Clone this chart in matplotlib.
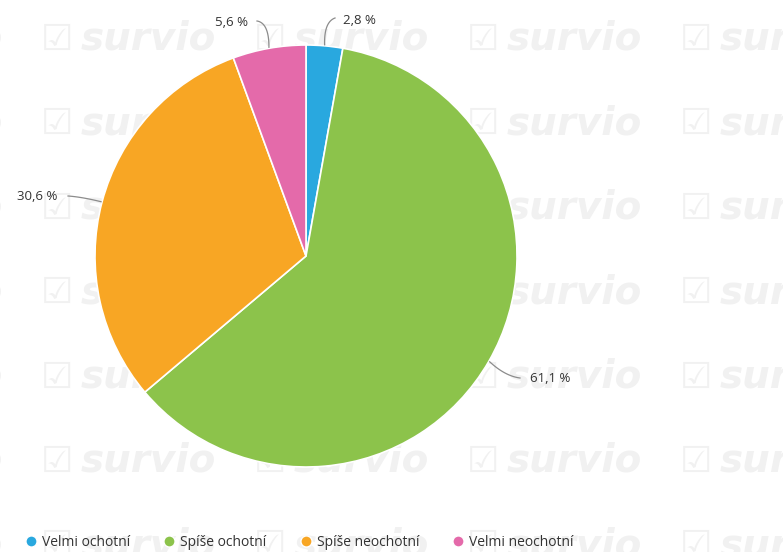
import numpy as np
import matplotlib.pyplot as plt
from matplotlib.lines import Line2D

labels = ["Velmi ochotní", "Spíše ochotní", "Spíše neochotní", "Velmi neochotní"]
values = [2.8, 61.1, 30.6, 5.6]
value_text = ["2,8 %", "61,1 %", "30,6 %", "5,6 %"]
colors = ["#29a8df", "#8cc34b", "#f8a624", "#e46aaa"]

W, H = 783, 552
fig = plt.figure(figsize=(W / 100, H / 100), dpi=100)
ax = fig.add_axes([0, 0, 1, 1])

# faint "survio" watermark grid behind the chart
wm = "#f1f1f1"
for yy in np.arange(7) * 84.4 + 50:
    for xx in np.arange(-1, 4) * 213 + 41:
        ax.text(xx, H - yy, "\u2611", fontsize=26, color=wm, va="baseline", ha="left", zorder=0)
        ax.text(xx + 40, H - yy, "survio", fontsize=28, color=wm, fontstyle="italic",
                fontweight="bold", va="baseline", ha="left", zorder=0)

cx, cy, r = 306, H - 256, 211
wedges, _ = ax.pie(values, colors=colors, startangle=90, counterclock=False,
                   center=(cx, cy), radius=r, frame=True,
                   wedgeprops=dict(edgecolor="white", linewidth=1.2))
ax.set_xlim(0, W)
ax.set_ylim(0, H)
ax.set_aspect("equal")
ax.axis("off")

# label text anchor, bend point and end of leader (pixels from top-left)
label_pos = [((343, 20), (324, 22), (335, 18), "left"),
             ((530, 378), (505, 376), (520, 378), "left"),
             ((57, 196), (82, 197), (68, 196), "right"),
             ((248, 22), (269, 23), (257, 21), "right")]
t = np.linspace(0, 1, 30)
for w, txt, (tp, cp, ep, ha) in zip(wedges, value_text, label_pos):
    ang = np.deg2rad((w.theta1 + w.theta2) / 2)
    px, py = cx + (r + 1) * np.cos(ang), cy + (r + 1) * np.sin(ang)
    qx, qy = cp[0], H - cp[1]
    ex, ey = ep[0], H - ep[1]
    bx = (1 - t) ** 2 * px + 2 * (1 - t) * t * qx + t ** 2 * ex
    by = (1 - t) ** 2 * py + 2 * (1 - t) * t * qy + t ** 2 * ey
    ax.plot(bx, by, color="#8c8c8c", lw=0.9, zorder=3)
    ax.text(tp[0], H - tp[1], txt, fontsize=9.5, family="Open Sans", color="#333333",
            ha=ha, va="center", zorder=4)

handles = [Line2D([0], [0], marker="o", linestyle="", markersize=8,
                  markerfacecolor=c, markeredgecolor="white") for c in colors]
fig.legend(handles, labels, loc="center left", bbox_to_anchor=(13 / W, 1 - 542 / H),
           ncol=4, frameon=False, handlelength=0.8, handletextpad=0.4, columnspacing=2.4,
           prop=dict(family="Open Sans", size=10), labelcolor="#333333")

fig.savefig("out.png", dpi=100)
